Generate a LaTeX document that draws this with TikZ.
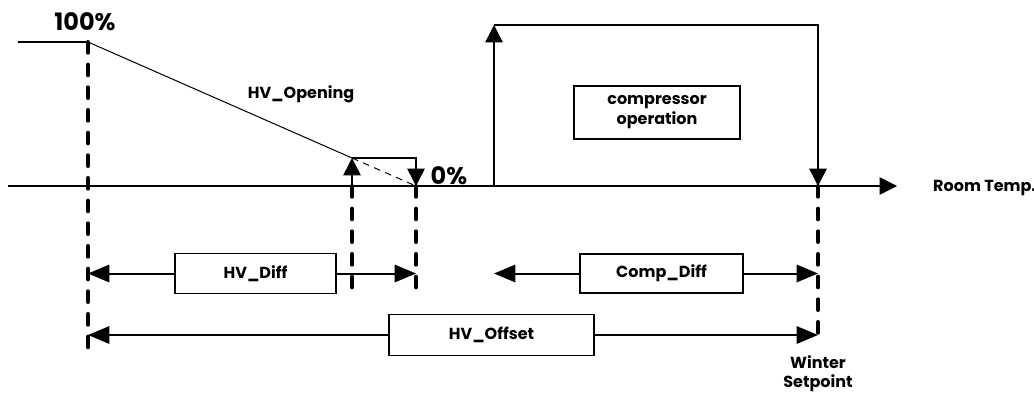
\documentclass[tikz,border=0pt]{standalone}
\usepackage{fontspec}
\setmainfont{Poppins}
\usetikzlibrary{arrows.meta}
\begin{document}
\begin{tikzpicture}[x=.75pt,y=-.75pt,line width=1.1pt,font=\fontsize{12}{14}\selectfont\bfseries,
  guide/.style={line width=3pt,line cap=round,dash pattern=on 8pt off 9pt},
  stepline/.style={line width=1.1pt,-{Triangle[length=13pt,width=13pt]}},
  dimline/.style={line width=1.5pt,-{Triangle[length=16pt,width=13pt]}},
  dimbox/.style={draw,line width=1.1pt,inner sep=0pt}]
  \useasboundingbox (0,0) rectangle (1034,396);
  % axis
  \coordinate (ax0) at (8,186);
  \coordinate (axE) at (897,186);
  \draw[stepline] (ax0)--(axE);
  \node[anchor=west] (room) at (928,188) {Room Temp.};
  % valve opening
  \coordinate (full0) at (18,42);
  \coordinate (full) at (88,42);
  \coordinate (knee) at (352,158);
  \coordinate (shut) at (416,158);
  \coordinate (kneeAx) at (352,186);
  \coordinate (shutAx) at (416,186);
  \draw[line width=1.5pt] (full0)--(full);
  \draw[line width=.75pt] (full)--(knee);
  \draw[stepline] (kneeAx)--(knee);
  \draw[stepline] (knee)--(shut)--(shutAx);
  \draw[line width=.75pt,dash pattern=on 5pt off 4pt] (knee)--(shutAx);
  \node[font=\fontsize{18}{20}\selectfont\bfseries] (p100) at (85,22) {100\%};
  \node[font=\fontsize{18}{20}\selectfont\bfseries] (p0) at (449,176) {0\%};
  \node (open) at (301,94) {HV\_Opening};
  % compressor
  \coordinate (cOn) at (494,186);
  \coordinate (cUp) at (494,25);
  \coordinate (cOff) at (818,25);
  \coordinate (wsp) at (818,186);
  \draw[stepline] (cOn)--(cUp);
  \draw[stepline] (cUp)--(cOff)--(wsp);
  \node[draw,line width=2.2pt,minimum width=124.5pt,minimum height=39.75pt,align=center,
    font=\fontsize{12}{15}\selectfont\bfseries] (comp) at (657,112.5) {compressor\\operation};
  % guides
  \coordinate (fullB) at (88,352);
  \coordinate (kneeB) at (352,288);
  \coordinate (shutB) at (416,288);
  \coordinate (wspB) at (818,342);
  \draw[guide] (full)--(fullB);
  \draw[guide] (kneeAx)--(kneeB);
  \draw[guide] (shutAx)--(shutB);
  \draw[guide] (wsp)--(wspB);
  % dimensions
  \node[dimbox,minimum width=120.75pt,minimum height=30pt] (hvdiff) at (255.5,273.5) {HV\_Diff};
  \draw[dimline] (hvdiff.west)--(hvdiff.west-|full);
  \draw[dimline] (hvdiff.east)--(hvdiff.east-|shut);
  \node[dimbox,minimum width=122.25pt,minimum height=29.25pt] (compdiff) at (661.5,273.5) {Comp\_Diff};
  \draw[dimline] (compdiff.west)--(compdiff.west-|cOn);
  \draw[dimline] (compdiff.east)--(compdiff.east-|wsp);
  \node[dimbox,minimum width=153.75pt,minimum height=30.75pt] (offset) at (491.5,335) {HV\_Offset};
  \draw[dimline] (offset.west)--(offset.west-|full);
  \draw[dimline] (offset.east)--(offset.east-|wsp);
  \node[align=center,font=\fontsize{12}{14.5}\selectfont\bfseries] (winter) at (818,374) {Winter\\Setpoint};
\end{tikzpicture}
\end{document}
